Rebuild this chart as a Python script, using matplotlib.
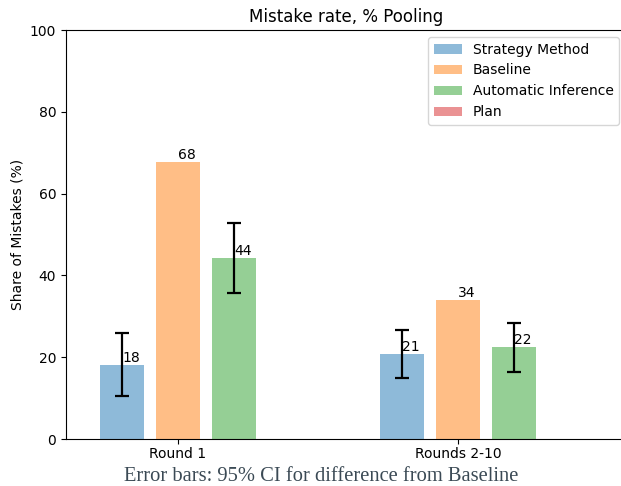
import matplotlib
matplotlib.use("Agg")
import matplotlib.pyplot as plt
import numpy as np

# mistake shares per treatment, with 95% CI half-widths vs. Baseline
groups = ["Round 1", "Rounds 2-10"]
series = ["Strategy Method", "Baseline", "Automatic Inference", "Plan"]
strategy = [18.2, 20.8]
strategy_err = [7.6, 5.9]
baseline = [67.8, 34.0]
auto_inf = [44.3, 22.4]
auto_inf_err = [8.5, 6.0]
plan = [np.nan, np.nan]

FS = 10

fig = plt.figure(figsize=(6.21, 4.86), dpi=100)
ax = fig.add_axes([66 / 621, 47 / 486, 560 / 621, 409 / 486])

x = np.arange(len(groups))
width = 0.158
step = 0.2

values = [strategy, baseline, auto_inf, plan]
errors = [strategy_err, None, auto_inf_err, None]

for i, (name, vals, errs) in enumerate(zip(series, values, errors)):
    pos = x + (i - 1) * step
    ax.bar(pos, vals, width, color="C%d" % i, alpha=0.5, label=name)
    if errs is not None:
        ax.errorbar(pos, vals, yerr=errs, fmt="none", ecolor="black",
                    elinewidth=1.6, capsize=4.7, capthick=1.6)
    for p, v in zip(pos, vals):
        if not np.isnan(v):
            ax.text(p, v, "%d" % round(v), ha="left", va="bottom",
                    fontsize=FS)

ax.set_xlim(-0.4, 1.6)
ax.set_ylim(0, 100)
ax.set_xticks(x)
ax.set_xticklabels(groups, fontsize=FS)
ax.tick_params(axis="x", pad=2.5)
ax.tick_params(axis="y", labelsize=FS)
ax.spines["right"].set_visible(False)
ax.set_ylabel("Share of Mistakes (%)", fontsize=FS)
ax.set_title("Mistake rate, % Pooling", fontsize=12)
ax.legend(loc="upper right", fontsize=FS)

fig.text(0.5177, 0.0103, "Error bars: 95% CI for difference from Baseline",
         ha="center", va="baseline", fontsize=14.8, family="Liberation Serif",
         color="#3b4a55")

fig.savefig("out.png", dpi=100)
